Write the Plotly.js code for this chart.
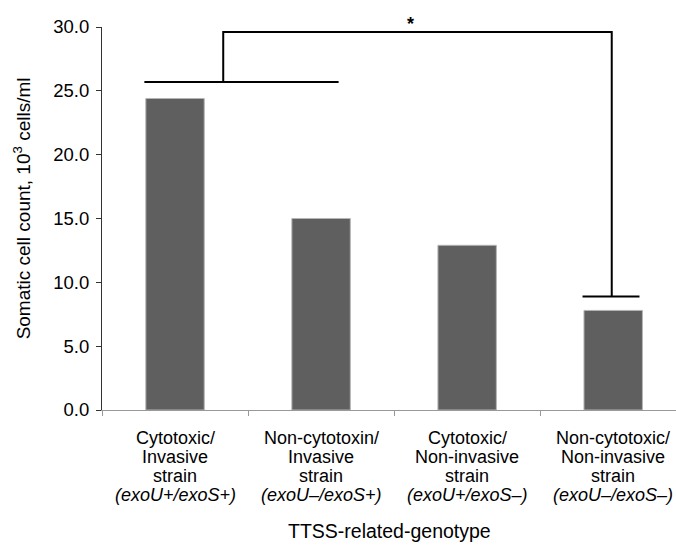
<!DOCTYPE html>
<html>
<head>
<meta charset="utf-8">
<script src="https://cdn.plot.ly/plotly-3.0.1.min.js"></script>
<style>html,body{margin:0;padding:0;background:#fff;}#chart{width:676px;height:545px;}</style>
</head>
<body>
<div id="chart"></div>
<script>
// Data
const groupLine1 = ["Cytotoxic/", "Non-cytotoxin/", "Cytotoxic/", "Non-cytotoxic/"];
const groupLine2 = ["Invasive", "Invasive", "Non-invasive", "Non-invasive"];
const groupLine3 = ["strain", "strain", "strain", "strain"];
const genotypes = ["(exoU+/exoS+)", "(exoU\u2013/exoS+)", "(exoU+/exoS\u2013)", "(exoU\u2013/exoS\u2013)"];
const cellCounts = [24.4, 15.0, 12.9, 7.8];

const yTickVals = [0, 5, 10, 15, 20, 25, 30];
const yTitle = "Somatic cell count, 10<sup>3</sup> cells/ml";
const xTitle = "TTSS-related-genotype";

// Significance bracket between group 1 (and 2) and group 4
const bracketLeftSpan = [-0.21, 1.12];
const bracketLeftLevel = 25.7;
const bracketLeftStem = 0.33;
const bracketTopLevel = 29.6;
const bracketRightStem = 2.99;
const bracketRightSpan = [2.79, 3.18];
const bracketRightLevel = 8.9;
const sigMark = "<b>*</b>";

const categories = groupLine1.map((l1, i) =>
  l1 + "<br>" + groupLine2[i] + "<br>" + groupLine3[i] + "<br><i>" + genotypes[i] + "</i>");

const font = {family: "'Liberation Sans', Arial, sans-serif", color: "#000"};

const trace = {
  type: "bar",
  x: categories,
  y: cellCounts,
  width: 0.4,
  marker: {color: "#5f5f5f", line: {color: "#b5b5b5", width: 1}},
  hoverinfo: "skip"
};

const lineStyle = {color: "#000", width: 2};
const shapes = [
  {type: "line", xref: "x", yref: "y", x0: bracketLeftSpan[0], x1: bracketLeftSpan[1], y0: bracketLeftLevel, y1: bracketLeftLevel, line: lineStyle},
  {type: "path", xref: "x", yref: "y",
   path: "M " + bracketLeftStem + " " + bracketLeftLevel + " L " + bracketLeftStem + " " + bracketTopLevel +
         " L " + bracketRightStem + " " + bracketTopLevel + " L " + bracketRightStem + " " + bracketRightLevel,
   line: lineStyle},
  {type: "line", xref: "x", yref: "y", x0: bracketRightSpan[0], x1: bracketRightSpan[1], y0: bracketRightLevel, y1: bracketRightLevel, line: lineStyle}
];

// Category labels: one annotation per text line (tight line spacing as in the reference)
const labelLines = [groupLine1, groupLine2, groupLine3, genotypes.map(g => "<i>" + g + "</i>")];
const lineShifts = [-28, -47, -65.5, -85];
const labelAnnotations = [];
labelLines.forEach((arr, li) => {
  arr.forEach((txt, ci) => {
    labelAnnotations.push({
      text: txt, xref: "x", yref: "paper", x: categories[ci], y: 0, yshift: lineShifts[li],
      xanchor: "center", yanchor: "middle", showarrow: false,
      font: Object.assign({size: 18}, font)
    });
  });
});

const layout = {
  width: 676, height: 545,
  margin: {l: 102, r: 0, t: 27, b: 135, pad: 0},
  paper_bgcolor: "#fff", plot_bgcolor: "#fff",
  font: Object.assign({size: 18}, font),
  showlegend: false,
  bargap: 0.6,
  xaxis: {
    type: "category",
    range: [-0.5, 3.43],
    tickson: "boundaries",
    ticks: "outside", ticklen: 5, tickcolor: "#999", tickwidth: 1,
    showline: true, linecolor: "#999", linewidth: 1,
    showgrid: false, zeroline: false,
    showticklabels: false,
    fixedrange: true
  },
  yaxis: {
    range: [0, 30],
    tickvals: yTickVals,
    tickformat: ".1f",
    ticks: "outside", ticklen: 5, tickcolor: "#333", tickwidth: 1,
    showline: true, linecolor: "#333", linewidth: 1,
    showgrid: false, zeroline: false,
    ticklabelstandoff: 3,
    tickfont: Object.assign({size: 18.5}, font),
    fixedrange: true
  },
  shapes: shapes,
  annotations: labelAnnotations.concat([
    {text: sigMark, xref: "x", yref: "paper", x: 1.61, y: 1.0, yshift: 15, showarrow: false,
     font: Object.assign({size: 18}, font)},
    {text: yTitle, xref: "paper", yref: "paper", x: -0.139, y: 0.527, textangle: -90,
     xanchor: "center", yanchor: "middle", showarrow: false, font: Object.assign({size: 19}, font)},
    {text: xTitle, xref: "paper", yref: "paper", x: 0.5, y: -0.316, xanchor: "center", yanchor: "middle",
     showarrow: false, font: Object.assign({size: 19.5}, font)}
  ])
};

Plotly.newPlot("chart", [trace], layout, {staticPlot: true, displayModeBar: false});
</script>
</body>
</html>
